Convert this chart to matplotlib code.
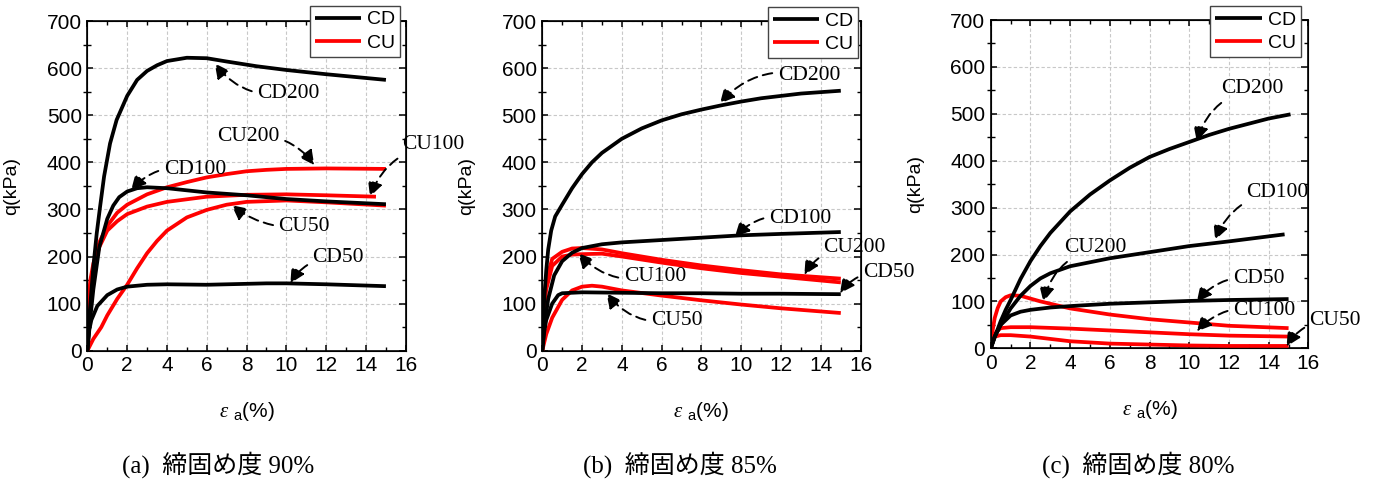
import matplotlib
matplotlib.use("Agg")
import matplotlib.pyplot as plt
from matplotlib.ticker import MultipleLocator

plt.rcParams['font.family'] = ['Liberation Sans', 'DejaVu Sans']
plt.rcParams['mathtext.fontset'] = 'custom'
plt.rcParams['mathtext.rm'] = 'Liberation Sans'
plt.rcParams['mathtext.it'] = 'Liberation Serif:italic'

# ---------------- panel (a) 90% ----------------
a_cd200_x = [0, 0.1, 0.3, 0.47, 0.64, 0.84, 1.14, 1.47, 2, 2.5, 3, 3.5, 4, 5, 6, 7, 8.5, 10, 12, 14, 15]
a_cd200_q = [0, 72, 178, 249, 306, 370, 440, 490, 541, 575, 594, 606, 615, 622, 621, 614, 604, 596, 587, 579, 575]
a_cd100_x = [0, 0.1, 0.3, 0.6, 1, 1.3, 1.6, 2, 2.5, 3, 4, 6, 8, 10, 12, 15]
a_cd100_q = [0, 50, 130, 220, 280, 308, 326, 338, 345, 347, 345, 336, 330, 322, 317, 311]
a_cd50_x = [0, 0.1, 0.2, 0.5, 1, 1.5, 2, 3, 4, 6, 8, 9, 10, 12, 15]
a_cd50_q = [0, 45, 65, 95, 118, 130, 136, 140, 141, 140, 142, 143, 143, 141, 137]
a_cu200_x = [0, 0.05, 0.15, 0.3, 0.6, 1, 1.5, 2, 3, 4, 5, 6, 7, 8, 9, 10, 12, 15]
a_cu200_q = [0, 100, 150, 185, 230, 265, 293, 310, 332, 347, 358, 368, 375, 381, 384, 386, 387, 386]
a_cu100_x = [0, 0.05, 0.15, 0.3, 0.6, 1, 1.5, 2, 3, 4, 6, 8, 10, 12, 14.5]
a_cu100_q = [0, 90, 140, 175, 220, 255, 275, 290, 306, 316, 327, 331, 332, 330, 327]
a_cu50_x = [0, 0.3, 0.7, 1, 1.5, 2, 2.5, 3, 3.5, 4, 5, 6, 7, 8, 10, 12, 15]
a_cu50_q = [0, 25, 50, 75, 110, 140, 175, 207, 233, 255, 283, 299, 310, 316, 319, 315, 308]

# ---------------- panel (b) 85% ----------------
b_cd200_x = [0, 0.05, 0.1, 0.2, 0.3, 0.45, 0.65, 1, 1.5, 2, 2.5, 3, 4, 5, 6, 7, 8, 9, 10, 11, 12, 13, 14, 15]
b_cd200_q = [0, 60, 110, 170, 215, 255, 285, 310, 345, 375, 400, 420, 450, 472, 489, 502, 512, 521, 529, 536, 541, 546, 549, 552]
b_cd100_x = [0, 0.1, 0.3, 0.6, 1, 1.5, 2, 3, 4, 6, 8, 10, 12, 15]
b_cd100_q = [0, 50, 110, 160, 190, 208, 218, 226, 230, 235, 240, 245, 248, 252]
b_cd50_x = [0, 0.1, 0.2, 0.5, 0.8, 1, 2, 4, 6, 8, 10, 12, 15]
b_cd50_q = [0, 40, 65, 100, 118, 122, 124, 123, 122, 122, 121, 121, 120]
b_cu200_x = [0, 0.1, 0.2, 0.5, 1, 1.5, 2, 3, 4, 6, 8, 10, 12, 15]
b_cu200_q = [0, 110, 150, 195, 210, 217, 218, 215, 207, 193, 181, 171, 162, 153]
b_cu100_x = [0, 0.1, 0.2, 0.5, 1, 1.5, 2, 3, 4, 6, 8, 10, 12, 15]
b_cu100_q = [0, 90, 130, 180, 200, 204, 205, 206, 200, 187, 175, 165, 157, 145]
b_cu50_x = [0, 0.2, 0.5, 1, 1.5, 2, 2.5, 3, 4, 6, 8, 10, 12, 15]
b_cu50_q = [0, 35, 70, 108, 128, 136, 138, 136, 128, 117, 107, 98, 90, 80]

# ---------------- panel (c) 80% ----------------
c_cd200_x = [0, 0.25, 0.5, 0.75, 1, 1.5, 2, 2.5, 3, 4, 5, 6, 7, 8, 9, 10, 11, 12, 13, 14, 15.1]
c_cd200_q = [0, 30, 58, 82, 103, 148, 186, 218, 246, 292, 328, 358, 385, 408, 425, 440, 455, 468, 479, 490, 499]
c_cd100_x = [0, 0.2, 0.5, 1, 1.5, 2, 2.5, 3, 4, 6, 8, 10, 12, 14.8]
c_cd100_q = [0, 25, 50, 85, 112, 133, 149, 160, 175, 192, 205, 218, 228, 243]
c_cd50_x = [0, 0.2, 0.5, 1, 1.5, 2, 3, 4, 6, 8, 10, 12, 15]
c_cd50_q = [0, 25, 50, 70, 78, 82, 87, 90, 95, 98, 101, 103, 105]
c_cu200_x = [0, 0.1, 0.2, 0.35, 0.5, 0.75, 1, 1.5, 2, 2.5, 3, 4, 6, 8, 10, 12, 15]
c_cu200_q = [0, 40, 65, 86, 100, 109, 113, 112, 106, 100, 95, 85, 72, 62, 55, 48, 43]
c_cu100_x = [0, 0.1, 0.3, 0.5, 1, 2, 4, 6, 8, 10, 12, 15]
c_cu100_q = [0, 20, 36, 43, 45, 45, 42, 38, 34, 30, 27, 25]
c_cu50_x = [0, 0.1, 0.2, 0.5, 1, 2, 3, 4, 6, 8, 10, 12, 15]
c_cu50_q = [0, 18, 25, 28, 28, 25, 20, 15, 10, 8, 6, 5, 5]

# annotations: label, text position (x, q), arrow tip (x, q), curvature
a_labels = ["CD200", "CU200", "CU100", "CD100", "CU50", "CD50"]
a_text = [(10.1, 546), (8.1, 454), (17.4, 437), (5.4, 384), (10.9, 263), (12.6, 198)]
a_tip = [(6.4, 610), (11.4, 394), (14.2, 327), (2.2, 341), (7.25, 309), (10.2, 143)]
a_rad = [-0.3, -0.3, 0.3, 0.3, -0.2, 0.3]

b_labels = ["CD200", "CD100", "CU200", "CD50", "CU100", "CU50"]
b_text = [(13.4, 585), (12.95, 280), (15.7, 219), (17.4, 166), (5.66, 158), (6.75, 64)]
b_tip = [(8.93, 525), (9.68, 242), (13.17, 161), (14.96, 122), (1.81, 207), (3.23, 122)]
b_rad = [0.3, 0.3, 0.3, 0.3, -0.3, -0.3]

c_labels = ["CD200", "CD100", "CU200", "CD50", "CU100", "CU50"]
c_text = [(13.16, 553), (14.44, 333), (5.27, 214), (13.48, 148), (13.77, 80), (17.35, 59)]
c_tip = [(10.38, 441), (11.3, 231), (2.65, 99), (10.38, 99), (10.38, 36), (14.9, 4)]
c_rad = [0.3, 0.3, 0.3, 0.3, 0.3, 0.3]

captions = ["(a)  締固め度 90%", "(b)  締固め度 85%", "(c)  締固め度 80%"]
caption_x = [0.158, 0.4935, 0.826]

panels = [
    dict(cd=[(a_cd200_x, a_cd200_q), (a_cd100_x, a_cd100_q), (a_cd50_x, a_cd50_q)],
         cu=[(a_cu200_x, a_cu200_q), (a_cu100_x, a_cu100_q), (a_cu50_x, a_cu50_q)],
         labels=a_labels, text=a_text, tip=a_tip, rad=a_rad),
    dict(cd=[(b_cd200_x, b_cd200_q), (b_cd100_x, b_cd100_q), (b_cd50_x, b_cd50_q)],
         cu=[(b_cu200_x, b_cu200_q), (b_cu100_x, b_cu100_q), (b_cu50_x, b_cu50_q)],
         labels=b_labels, text=b_text, tip=b_tip, rad=b_rad),
    dict(cd=[(c_cd200_x, c_cd200_q), (c_cd100_x, c_cd100_q), (c_cd50_x, c_cd50_q)],
         cu=[(c_cu200_x, c_cu200_q), (c_cu100_x, c_cu100_q), (c_cu50_x, c_cu50_q)],
         labels=c_labels, text=c_text, tip=c_tip, rad=c_rad),
]

# axes rectangles in figure fractions
rects = [
    [0.0634, 0.2724, 0.2311, 0.684],
    [0.3935, 0.2724, 0.2311, 0.684],
    [0.7190, 0.2774, 0.2305, 0.681],
]
legend_anchor = [(0.982, 1.0455), (0.9925, 1.0415), (0.976, 1.0426)]

fig = plt.figure(figsize=(13.78, 4.82), dpi=100)

for i, p in enumerate(panels):
    ax = fig.add_axes(rects[i])

    cu_lines = []
    for x, q in p["cu"]:
        ln, = ax.plot(x, q, color="#ff0000", lw=2.7, solid_capstyle="butt", zorder=3)
        cu_lines.append(ln)
    cd_lines = []
    for x, q in p["cd"]:
        ln, = ax.plot(x, q, color="black", lw=2.7, solid_capstyle="butt", zorder=4)
        cd_lines.append(ln)

    ax.set_xlim(0, 16)
    ax.set_ylim(0, 700)
    ax.xaxis.set_major_locator(MultipleLocator(2))
    ax.xaxis.set_minor_locator(MultipleLocator(1))
    ax.yaxis.set_major_locator(MultipleLocator(100))
    ax.yaxis.set_minor_locator(MultipleLocator(50))
    ax.grid(True, which="major", color="#c8c8c8", linestyle=(0, (3, 2)), lw=0.8)
    ax.set_axisbelow(True)
    for s in ax.spines.values():
        s.set_linewidth(1.2)

    ax.tick_params(axis="both", which="major", direction="in", length=4,
                   width=1.1, labelsize=15, pad=4, top=True, right=False)
    ax.tick_params(axis="x", which="minor", direction="in", length=3,
                   width=1.0, top=True)
    ax.tick_params(axis="y", which="minor", direction="inout", length=6,
                   width=1.0, right=False)

    tw = ax.twinx()
    tw.set_ylim(0, 700)
    tw.yaxis.set_major_locator(MultipleLocator(100))
    tw.yaxis.set_minor_locator(MultipleLocator(50))
    tw.tick_params(axis="y", which="major", direction="in", length=5,
                   width=1.1, labelright=False)
    tw.tick_params(axis="y", which="minor", direction="in", length=3,
                   width=1.0, labelright=False)

    ax.set_ylabel("q(kPa)", fontsize=14)
    ax.yaxis.set_label_coords(-0.211, 0.5)
    ax.set_xlabel(r"$\it{\varepsilon}$ $_{\rm a}$(%)", fontsize=15)
    ax.xaxis.set_label_coords(0.5, -0.15)

    for lab, t, tp, r in zip(p["labels"], p["text"], p["tip"], p["rad"]):
        ax.annotate(lab, xy=tp, xytext=t, ha="center", va="center",
                    fontsize=15.5, family=["Liberation Serif"],
                    annotation_clip=False, zorder=6,
                    arrowprops=dict(arrowstyle="-|>", color="black",
                                    lw=1.4, linestyle=(0, (5, 3)),
                                    mutation_scale=22, shrinkA=2, shrinkB=0,
                                    connectionstyle=f"arc3,rad={r}"))

    leg = tw.legend([cd_lines[0], cu_lines[0]], ["CD", "CU"],
                    loc="upper right", bbox_to_anchor=legend_anchor[i],
                    borderaxespad=0, fontsize=14, handlelength=2.4,
                    handletextpad=0.3, labelspacing=0.3, borderpad=0.25,
                    fancybox=False, framealpha=1, edgecolor="#444444")
    leg.get_frame().set_linewidth(1.0)
    leg.set_zorder(10)

    fig.text(caption_x[i], 0.037, captions[i], ha="center", va="center",
             fontsize=18, family=["Liberation Serif", "Noto Sans CJK JP"])

fig.savefig("out.png", dpi=100)
